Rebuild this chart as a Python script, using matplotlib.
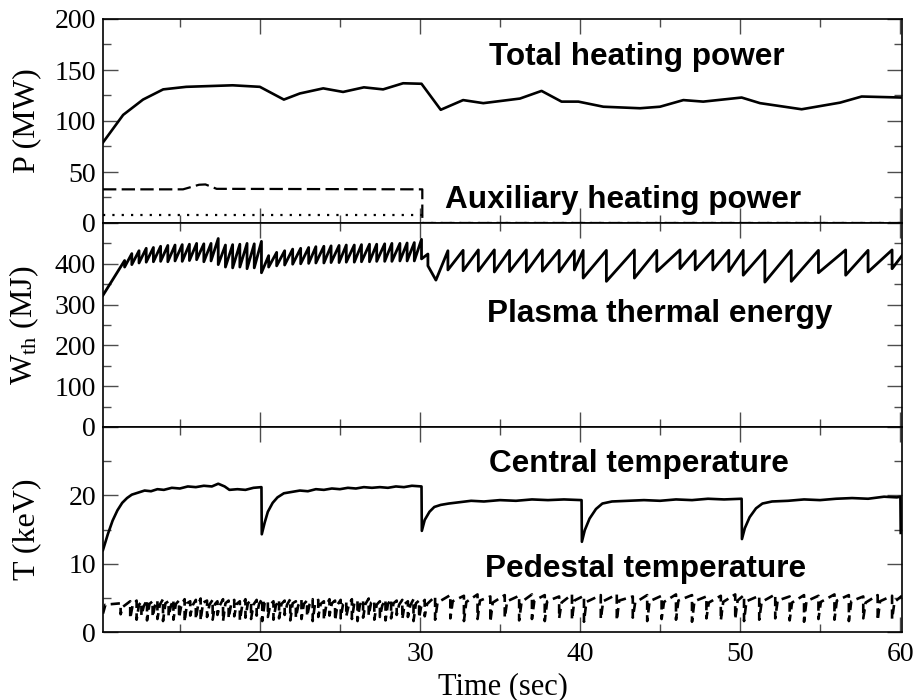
import matplotlib
matplotlib.use("Agg")
import matplotlib.pyplot as plt
from matplotlib.ticker import MultipleLocator

plt.rcParams['font.family'] = ['Liberation Serif', 'DejaVu Serif']
plt.rcParams['mathtext.fontset'] = 'custom'
plt.rcParams['mathtext.rm'] = 'Liberation Serif'
plt.rcParams['mathtext.it'] = 'Liberation Serif:italic'

T0, T1 = 10.2, 60.12

# total heating power (MW)
ptot_t = [10.2, 11.46, 12.7, 13.96, 15.4, 18.3, 20.0, 21.5, 22.5, 23.96, 25.2, 26.5,
          27.7, 28.95, 30.1, 31.3, 32.7, 33.96, 36.25, 37.6, 38.85, 39.9, 41.46,
          43.75, 45.0, 46.46, 47.7, 50.1, 51.25, 53.85, 56.25, 57.6, 60.12]
ptot_v = [79, 106, 121, 131, 133.5, 135, 133.5, 121, 127, 132, 128.5, 133,
          131, 137, 136.5, 111, 120.5, 117.5, 122, 129.5, 119, 119, 114,
          112.5, 114, 120.5, 119, 123, 117.5, 111.5, 118, 124, 123]

# auxiliary heating (MW): dashed and dotted components
aux_a_t = [10.2, 15.2, 16.2, 16.6, 17.3, 30.15, 30.15, 60.12]
aux_a_v = [33, 33, 37.5, 37.8, 33.5, 33, 0, 0]
aux_b_t = [10.2, 30.15, 30.15, 60.12]
aux_b_v = [7.5, 7.5, 0, 0]

# plasma thermal energy (MJ): sawtooth crash times, value before / after crash
saw_t = [10.2,
         11.55, 12.0, 12.45, 12.9, 13.35, 13.8, 14.25, 14.7, 15.15, 15.6, 16.05, 16.5,
         16.95, 17.4, 17.85, 18.3, 18.75, 19.2, 19.65,
         20.1,
         20.55, 21.05, 21.55, 22.05, 22.55, 23.05, 23.5, 24.0, 24.45, 24.95, 25.4, 25.9,
         26.35, 26.85, 27.3, 27.8, 28.25, 28.75, 29.2, 29.65,
         30.1,
         30.5, 31.0,
         31.75, 32.7, 33.65, 34.65, 35.6, 36.65, 37.65, 38.7, 39.65,
         40.2,
         41.65, 43.4, 44.8, 46.25, 47.2, 48.3, 49.3,
         50.2,
         51.55, 53.2, 54.9, 56.6, 58.0, 59.5,
         60.12]
saw_hi = [323,
          408, 425, 432, 438, 440, 443, 445, 446, 447, 448, 450, 449,
          450, 462, 446, 447, 448, 450, 449,
          455,
          420, 428, 432, 436, 438, 440, 442, 443, 444, 445, 446, 446,
          447, 448, 448, 449, 450, 450, 451, 452,
          460,
          424, 360,
          432, 433, 434, 434, 433, 434, 434, 433, 432,
          433,
          433, 434, 433, 434, 432, 433, 433,
          433,
          433, 433, 433, 434, 433, 434,
          420]
saw_lo = [323,
          392, 398, 402, 404, 405, 406, 405, 407, 406, 408, 410, 405,
          407, 398, 392, 390, 392, 388, 390,
          378,
          392, 395, 397, 399, 400, 401, 402, 402, 403, 403, 404, 404,
          405, 405, 406, 406, 406, 407, 407, 407,
          412,
          395, 360,
          385, 383, 382, 380, 381, 380, 382, 380, 385,
          365,
          357, 365, 381, 388, 385, 385, 381,
          372,
          355, 357, 378, 372, 380, 388,
          420]

# central temperature (keV)
te_t = [10.2, 10.5, 10.8, 11.1, 11.4, 11.7, 12.0, 12.4, 12.8, 13.2, 13.6, 14.0, 14.5,
        15.0, 15.5, 16.0, 16.5, 17.0, 17.4, 17.8, 18.1, 18.6, 19.1, 19.6, 20.1,
        20.12, 20.3, 20.5, 20.8, 21.1, 21.5, 22.0, 22.5, 23.0, 23.5, 24.0, 24.5,
        25.0, 25.5, 26.0, 26.5, 27.0, 27.5, 28.0, 28.5, 29.0, 29.5, 30.1,
        30.12, 30.3, 30.6, 30.9, 31.3, 31.8, 32.5, 33.2, 34.0, 35.0, 36.0, 37.0,
        38.0, 39.0, 40.1,
        40.12, 40.3, 40.6, 41.0, 41.4, 42.0, 43.0, 44.0, 45.0, 46.0, 47.0, 48.0,
        49.0, 50.1,
        50.12, 50.3, 50.6, 51.0, 51.4, 52.0, 53.0, 54.0, 55.0, 56.0, 57.0, 58.0,
        59.0, 59.8, 60.02, 60.04]
te_v = [12.0, 14.3, 16.3, 17.8, 18.9, 19.6, 20.1, 20.4, 20.7, 20.6, 20.9, 20.8, 21.1,
        21.0, 21.3, 21.2, 21.4, 21.3, 21.7, 21.3, 20.8, 20.9, 20.8, 21.1, 21.2,
        14.3, 16.0, 17.6, 18.9, 19.7, 20.3, 20.5, 20.7, 20.6, 20.9, 20.8, 21.0,
        20.9, 21.1, 21.0, 21.2, 21.1, 21.2, 21.1, 21.3, 21.2, 21.4, 21.3,
        14.8, 16.4, 17.6, 18.3, 18.6, 18.8, 19.0, 19.2, 19.1, 19.3, 19.2, 19.4,
        19.3, 19.4, 19.3,
        13.2, 14.9, 16.6, 18.0, 18.8, 19.1, 19.2, 19.3, 19.2, 19.4, 19.3, 19.5,
        19.4, 19.5,
        13.6, 15.2, 16.8, 18.1, 18.8, 19.1, 19.2, 19.4, 19.3, 19.5, 19.6, 19.5,
        19.8, 19.7, 19.8, 14.5]

# pedestal temperature (keV): ELM times, value before crash, after crash, after recovery
elm_t = [10.2,
         11.3, 11.9, 12.3, 12.6, 12.95, 13.3, 13.6, 13.95, 14.3, 14.6,
         14.95, 15.3, 15.65, 16.0, 16.3, 16.7, 17.05, 17.35, 17.7, 18.05,
         18.4, 18.75, 19.1, 19.45, 19.8, 20.15, 20.5, 20.85, 21.2, 21.55,
         21.9, 22.25, 22.6, 22.95, 23.3, 23.65, 24.0, 24.35, 24.7, 25.05,
         25.4, 25.75, 26.1, 26.45, 26.8, 27.15, 27.5, 27.85, 28.2, 28.55,
         28.9, 29.25, 29.6, 29.95, 30.3,
         30.95, 31.9, 32.75, 33.6, 34.4, 35.3, 36.2, 37.0, 37.8, 38.7,
         39.5, 40.25, 41.3, 42.3, 43.3, 44.2, 45.1, 46.0, 47.0, 47.9,
         48.8, 49.7, 50.25, 51.2, 52.2, 53.1, 54.0, 54.9, 55.9, 56.8,
         57.7, 58.6, 59.5]
elm_hi = [2.7,
          4.2, 4.5, 4.6, 4.4, 4.7, 4.5, 4.6, 4.8, 4.5, 4.7,
          4.6, 4.8, 4.5, 4.7, 4.9, 4.6, 4.7, 4.5, 4.8, 4.6,
          4.7, 4.5, 4.8, 4.6, 4.7, 4.9, 4.6, 4.5, 4.7, 4.6,
          4.8, 4.5, 4.7, 4.6, 4.8, 4.7, 4.5, 4.8, 4.6, 4.7,
          4.5, 4.8, 4.6, 4.7, 4.9, 4.6, 4.5, 4.7, 4.8, 4.6,
          4.7, 4.5, 4.8, 4.6, 4.7,
          5.2, 5.4, 5.3, 5.5, 5.2, 5.4, 5.3, 5.5, 5.4, 5.2,
          5.5, 5.3, 5.4, 5.5, 5.2, 5.4, 5.3, 5.5, 5.4, 5.2,
          5.3, 5.5, 5.4, 5.3, 5.5, 5.2, 5.4, 5.3, 5.5, 5.4,
          5.2, 5.4, 5.3]
elm_lo = [2.7,
          2.6, 2.0, 1.8, 2.4, 1.7, 2.2, 1.9, 1.6, 2.3, 1.8,
          2.1, 1.5, 2.4, 1.9, 1.7, 2.2, 1.8, 2.5, 1.6, 2.0,
          2.3, 1.7, 2.1, 1.9, 2.4, 1.6, 2.2, 1.8, 2.0, 2.5,
          1.7, 2.1, 1.9, 2.3, 1.6, 2.2, 1.8, 2.4, 1.7, 2.0,
          2.3, 1.9, 1.6, 2.1, 2.4, 1.8, 2.2, 1.7, 2.0, 2.5,
          1.9, 2.2, 1.6, 2.1, 2.3,
          1.8, 2.0, 1.6, 1.9, 1.5, 2.1, 1.7, 1.9, 1.6, 2.0,
          1.8, 1.5, 1.9, 1.7, 2.1, 1.6, 1.9, 1.8, 1.5, 2.0,
          1.7, 1.9, 1.6, 1.8, 2.0, 1.7, 1.5, 1.9, 1.8, 1.6,
          2.0, 1.7, 1.9]
elm_rec = [4.0,
           3.7, 3.9, 4.0, 3.8, 4.1, 3.9, 4.0, 4.2, 3.9, 4.1,
           4.0, 4.2, 3.9, 4.1, 4.3, 4.0, 4.1, 3.9, 4.2, 4.0,
           4.1, 3.9, 4.2, 4.0, 4.1, 4.3, 4.0, 3.9, 4.1, 4.0,
           4.2, 3.9, 4.1, 4.0, 4.2, 4.1, 3.9, 4.2, 4.0, 4.1,
           3.9, 4.2, 4.0, 4.1, 4.3, 4.0, 3.9, 4.1, 4.2, 4.0,
           4.1, 3.9, 4.2, 4.0, 4.1,
           4.3, 4.5, 4.4, 4.6, 4.3, 4.5, 4.4, 4.6, 4.5, 4.3,
           4.6, 4.4, 4.5, 4.6, 4.3, 4.5, 4.4, 4.6, 4.5, 4.3,
           4.4, 4.6, 4.5, 4.4, 4.6, 4.3, 4.5, 4.4, 4.6, 4.5,
           4.3, 4.5, 4.4]
ped_end = 5.3
rec_time = 0.15  # seconds from ELM crash to end of fast recovery

# build the sawtooth / ELM paths
wth_t, wth_v = [], []
for t, hi, lo in zip(saw_t, saw_hi, saw_lo):
    wth_t += [t, t]
    wth_v += [hi, lo]

ped_t, ped_v = [], []
for t, hi, lo, rec in zip(elm_t, elm_hi, elm_lo, elm_rec):
    ped_t += [t, t, t + rec_time]
    ped_v += [hi, lo, rec]
ped_t.append(T1)
ped_v.append(ped_end)

fig = plt.figure(figsize=(9.14, 7.0), dpi=100)
W = 914.0
H = 700.0
left, right = 103 / W, 902 / W
rows = [(19, 223), (223, 427), (427, 632)]
axes = []
for top, bot in rows:
    ax = fig.add_axes([left, 1 - bot / H, right - left, (bot - top) / H])
    axes.append(ax)

ax1, ax2, ax3 = axes

ax1.plot(ptot_t, ptot_v, color='black', lw=1.9)
ax1.plot(aux_a_t, aux_a_v, color='black', lw=1.6, dashes=(6, 2.4))
ax1.plot(aux_b_t, aux_b_v, color='black', lw=1.6, dashes=(1, 3.2))
ax1.set_ylim(0, 200)
ax1.yaxis.set_major_locator(MultipleLocator(50))
ax1.yaxis.set_minor_locator(MultipleLocator(25))
ax1.set_ylabel('P (MW)')

ax2.plot(wth_t, wth_v, color='black', lw=2.0)
ax2.set_ylim(0, 500)
ax2.set_yticks([0, 100, 200, 300, 400, 500])
ax2.set_yticklabels(['0', '100', '200', '300', '400', ''])
ax2.yaxis.set_minor_locator(MultipleLocator(50))
ax2.set_ylabel(r'W$_{\rm th}$ (MJ)')

ax3.plot(te_t, te_v, color='black', lw=1.9)
ax3.plot(ped_t, ped_v, color='black', lw=1.9, dashes=(3.5, 2.0))
ax3.set_ylim(0, 30)
ax3.set_yticks([0, 10, 20, 30])
ax3.set_yticklabels(['0', '10', '20', ''])
ax3.yaxis.set_minor_locator(MultipleLocator(5))
ax3.set_ylabel('T (keV)')
ax3.set_xlabel('Time (sec)', fontsize=22, labelpad=4)

for ax in axes:
    ax.set_xlim(T0, T1)
    ax.xaxis.set_major_locator(MultipleLocator(10))
    ax.xaxis.set_minor_locator(MultipleLocator(5))
    ax.tick_params(which='both', direction='in', top=True, right=True,
                   color='0.3', width=1.0)
    ax.tick_params(which='major', length=11, labelsize=20, pad=5)
    ax.tick_params(which='minor', length=6)
    ax.yaxis.label.set_size(23)
    ax.yaxis.set_label_coords(-0.077, 0.5)
    for sp in ax.spines.values():
        sp.set_linewidth(1.2)
    if ax is not ax3:
        ax.tick_params(labelbottom=False)
ax3.tick_params(axis='x', pad=7)

labels = [
    ('Total heating power', 637, 65),
    ('Auxiliary heating power', 623, 208),
    ('Plasma thermal energy', 660, 322),
    ('Central temperature', 639, 472),
    ('Pedestal temperature', 646, 577),
]
for s, px, py in labels:
    fig.text(px / W, 1 - py / H, s, family='Liberation Sans', fontweight='bold',
             fontsize=22.7, ha='center', va='baseline')

fig.savefig('out.png', dpi=100)
